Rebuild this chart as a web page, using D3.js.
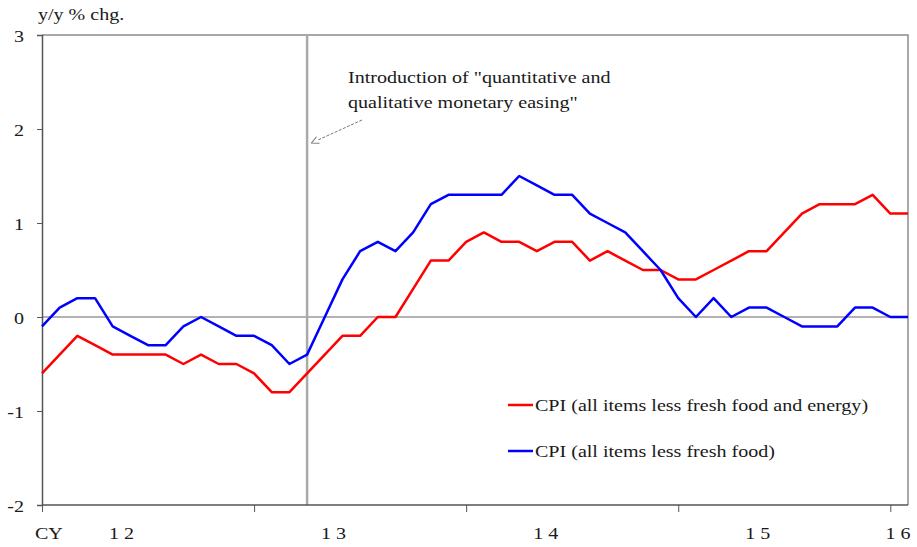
<!DOCTYPE html>
<html>
<head>
<meta charset="utf-8">
<script src="https://cdn.jsdelivr.net/npm/d3@7"></script>
<style>
  body { margin: 0; background: #fff; }
  text { font-family: "Liberation Serif", "DejaVu Serif", serif; fill: #1a1a1a; }
</style>
</head>
<body>
<div id="chart"></div>
<script>
// monthly, Jan 2012 .. Feb 2016
let months = d3.timeMonth.range(new Date(2012, 0, 1), new Date(2016, 2, 1));

let coreCore = [-0.6, -0.4, -0.2, -0.3, -0.4, -0.4, -0.4, -0.4, -0.5, -0.4, -0.5, -0.5,
                -0.6, -0.8, -0.8, -0.6, -0.4, -0.2, -0.2, 0.0, 0.0, 0.3, 0.6, 0.6,
                0.8, 0.9, 0.8, 0.8, 0.7, 0.8, 0.8, 0.6, 0.7, 0.6, 0.5, 0.5,
                0.4, 0.4, 0.5, 0.6, 0.7, 0.7, 0.9, 1.1, 1.2, 1.2, 1.2, 1.3,
                1.1, 1.1];
let core = [-0.1, 0.1, 0.2, 0.2, -0.1, -0.2, -0.3, -0.3, -0.1, 0.0, -0.1, -0.2,
            -0.2, -0.3, -0.5, -0.4, 0.0, 0.4, 0.7, 0.8, 0.7, 0.9, 1.2, 1.3,
            1.3, 1.3, 1.3, 1.5, 1.4, 1.3, 1.3, 1.1, 1.0, 0.9, 0.7, 0.5,
            0.2, 0.0, 0.2, 0.0, 0.1, 0.1, 0.0, -0.1, -0.1, -0.1, 0.1, 0.1,
            0.0, 0.0];

let yTicks = [-2, -1, 0, 1, 2, 3];
let yearLabels = ["1 2", "1 3", "1 4", "1 5", "1 6"];
let seriesNames = ["CPI (all items less fresh food and energy)", "CPI (all items less fresh food)"];
let seriesColors = ["#ff0000", "#0000ff"];
let qqeMonth = new Date(2013, 3, 1);

let width = 917, height = 547;
let plotLeft = 42, plotRight = 908, plotTop = 35, plotBottom = 505;
let fontSize = 17, stretch = 1.18;

// the source text is wide: scale glyphs horizontally around their anchor
function widen(sel) {
    sel.each(function () {
        let t = d3.select(this);
        let tx = +t.attr("x") || 0, ty = +t.attr("y") || 0;
        t.attr("x", 0).attr("y", 0)
         .attr("transform", `translate(${tx},${ty}) scale(${stretch},1)`);
    });
}

let svg = d3.select("#chart").append("svg")
    .attr("width", width)
    .attr("height", height);

let x = d3.scalePoint()
    .domain(months.map(d => +d))
    .range([plotLeft, plotRight]);
let step = x.step();

let y = d3.scaleLinear()
    .domain([-2, 3])
    .range([plotBottom, plotTop]);

// frame (top & right)
svg.append("path")
    .attr("d", `M${plotLeft},${plotTop}H${plotRight}V${plotBottom}`)
    .attr("fill", "none")
    .attr("stroke", "#8c8c8c")
    .attr("stroke-width", 1.5);

// zero line
svg.append("line")
    .attr("x1", plotLeft).attr("x2", plotRight)
    .attr("y1", y(0)).attr("y2", y(0))
    .attr("stroke", "#666")
    .attr("stroke-width", 1.2);

// QQE marker
svg.append("line")
    .attr("x1", x(+qqeMonth)).attr("x2", x(+qqeMonth))
    .attr("y1", plotTop).attr("y2", plotBottom)
    .attr("stroke", "#aaa")
    .attr("stroke-width", 2.5);

// y axis
let yAxis = svg.append("g")
    .attr("transform", `translate(${plotLeft},0)`)
    .call(d3.axisLeft(y).tickValues(yTicks).tickSize(5).tickPadding(13).tickFormat(d => String(d)));
yAxis.select(".domain").attr("stroke", "#555").attr("stroke-width", 1.5);
yAxis.selectAll(".tick line").attr("stroke", "#555");
yAxis.selectAll("text")
    .attr("font-size", fontSize)
    .attr("font-family", "Liberation Serif")
    .attr("fill", "#1a1a1a")
    .attr("dy", null)
    .attr("y", 6)
    .call(widen);

// x axis
let janMonths = months.filter(d => d.getMonth() === 0);
let xAxis = svg.append("g")
    .attr("transform", `translate(0,${plotBottom})`)
    .call(d3.axisBottom(x).tickValues(janMonths.map(d => +d)).tickSize(7).tickFormat(""));
xAxis.select(".domain").attr("stroke", "#555").attr("stroke-width", 1.5)
    .attr("d", `M${plotLeft},0H${plotRight}`);
xAxis.selectAll(".tick line").attr("stroke", "#555");

svg.append("text")
    .attr("x", plotLeft - 7).attr("y", 539)
    .attr("font-size", fontSize)
    .text("CY")
    .call(widen);

svg.selectAll(".yearLabel")
    .data(janMonths)
    .enter().append("text")
    .attr("class", "yearLabel")
    .attr("x", (d, i) => Math.min(x(+d) + step * 4.5, plotRight - 10))
    .attr("y", 539)
    .attr("text-anchor", "middle")
    .attr("font-size", fontSize)
    .attr("xml:space", "preserve")
    .text((d, i) => yearLabels[i])
    .call(widen);

// unit label
svg.append("text")
    .attr("x", 38).attr("y", 20)
    .attr("font-size", fontSize)
    .text("y/y % chg.")
    .call(widen);

// lines
let line = d3.line()
    .x((d, i) => x(+months[i]))
    .y(d => y(d));

[coreCore, core].forEach(function (s, k) {
    svg.append("path")
        .datum(s)
        .attr("fill", "none")
        .attr("stroke", seriesColors[k])
        .attr("stroke-width", 2.5)
        .attr("stroke-linejoin", "round")
        .attr("d", line);
});

// annotation
svg.append("text")
    .attr("x", 348).attr("y", 83)
    .attr("font-size", fontSize)
    .text("Introduction of \"quantitative and")
    .call(widen);
svg.append("text")
    .attr("x", 348).attr("y", 108)
    .attr("font-size", fontSize)
    .text("qualitative monetary easing\"")
    .call(widen);

svg.append("defs").append("marker")
    .attr("id", "arrow")
    .attr("viewBox", "0 0 10 10")
    .attr("refX", 1).attr("refY", 5)
    .attr("markerWidth", 9).attr("markerHeight", 9)
    .attr("orient", "auto")
    .append("path")
    .attr("d", "M1,1 L9,5 L1,9")
    .attr("fill", "none")
    .attr("stroke", "#777")
    .attr("stroke-width", 1.2);

svg.append("line")
    .attr("x1", 362).attr("y1", 120)
    .attr("x2", 318).attr("y2", 140)
    .attr("stroke", "#777")
    .attr("stroke-width", 1)
    .attr("stroke-dasharray", "3,1.5")
    .attr("marker-end", "url(#arrow)");

// legend
let legendY = [405, 451];
seriesNames.forEach(function (name, k) {
    svg.append("line")
        .attr("x1", 508).attr("x2", 533)
        .attr("y1", legendY[k]).attr("y2", legendY[k])
        .attr("stroke", seriesColors[k])
        .attr("stroke-width", 2.5);
    svg.append("text")
        .attr("x", 535).attr("y", legendY[k] + 6)
        .attr("font-size", fontSize)
        .text(name)
        .call(widen);
});
</script>
</body>
</html>
